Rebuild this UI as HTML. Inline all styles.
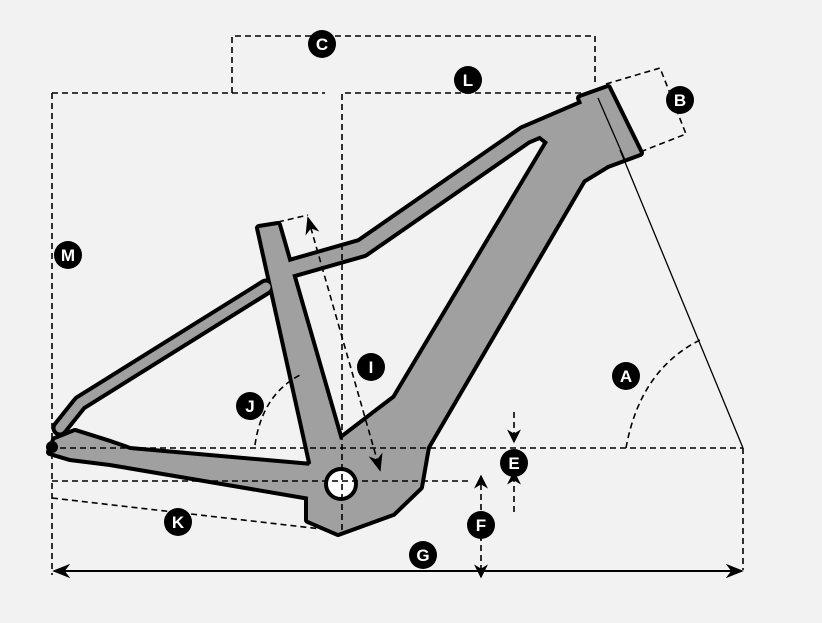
<!DOCTYPE html>
<html><head><style>body{margin:0;background:#f2f2f2}svg{display:block}</style></head><body>
<svg width="822" height="623" viewBox="0 0 822 623" xmlns="http://www.w3.org/2000/svg">
<rect width="822" height="623" fill="#f2f2f2"/>
<defs>
<marker id="ah" viewBox="0 0 10 10" refX="9" refY="5" markerWidth="14" markerHeight="14" markerUnits="userSpaceOnUse" orient="auto-start-reverse"><path d="M0,0 L10,5 L0,10 L3,5 z" fill="#000"/></marker>
<marker id="ah2" viewBox="0 0 10 10" refX="9" refY="5" markerWidth="18" markerHeight="18" markerUnits="userSpaceOnUse" orient="auto-start-reverse"><path d="M0,1 L10,5 L0,9 L3,5 z" fill="#000"/></marker>
</defs>
<!-- frame black pass -->
<g stroke="#000" stroke-linejoin="round" stroke-linecap="round">
<polyline points="595,105 525,135 362,248 292,268" fill="none" stroke-width="21"/>
<polyline points="266,287 80,403 60,428" fill="none" stroke-width="17"/>
<g fill="#000" stroke-width="8">
<polygon points="259,228 278,225 340,440 318,480 312,467"/>
<polygon points="600,100 606,166 583,180 427,447 420,487 393,513 338,533 308,520 308,490 340,440 395,398 548,142 535,132"/>
<polygon points="580,98 608,88 640,153 605,166"/>
<polygon points="312,466 130,450 110,443 75,432 55,440 50,452 70,458 110,463 310,497"/>
</g>
</g>
<!-- frame gray pass -->
<g stroke="#a0a0a0" stroke-linejoin="round" stroke-linecap="round">
<polyline points="595,105 525,135 362,248 292,268" fill="none" stroke-width="13"/>
<polyline points="266,287 80,403 60,428" fill="none" stroke-width="9"/>
<g fill="#a0a0a0" stroke-width="0">
<polygon points="259,228 278,225 340,440 318,480 312,467"/>
<polygon points="600,100 606,166 583,180 427,447 420,487 393,513 338,533 308,520 308,490 340,440 395,398 548,142 535,132"/>
<polygon points="580,98 608,88 640,153 605,166"/>
<polygon points="312,466 130,450 110,443 75,432 55,440 50,452 70,458 110,463 310,497"/>
<polygon points="309,465 340,440 340,515 310,496"/>
</g>
</g>
<line x1="598" y1="98" x2="625" y2="160" stroke="#000" stroke-width="1.3"/>
<circle cx="52" cy="447" r="6" fill="#000"/>
<circle cx="341" cy="484" r="15" fill="#fff" stroke="#000" stroke-width="4"/>
<g fill="none" stroke="#000" stroke-width="1.6" stroke-dasharray="6 4">
<path d="M232,93 V36 H595 V82"/>
<path d="M52,93 H325"/>
<path d="M52,93 V575"/>
<path d="M342,530 V93 H594"/>
<path d="M606,84 L660,68 L686,134 L640,152"/>
<path d="M60,448 H743"/>
<path d="M743,448 V570"/>
<path d="M52,481 H470"/>
<path d="M52,498 L330,530"/>
<path d="M626,448 Q640,370 700,340"/>
<path d="M255,445 Q262,395 300,375"/>
<path d="M278,222 L308,215"/>
<path d="M308,218 L380,470" marker-start="url(#ah2)" marker-end="url(#ah2)"/>
<path d="M514,412 V442" marker-end="url(#ah)"/>
<path d="M514,512 V472" marker-end="url(#ah)"/>
<path d="M481,540 V476" marker-end="url(#ah)"/>
<path d="M481,535 V577" marker-end="url(#ah)"/>
</g>
<path d="M620,150 L743,448" stroke="#000" stroke-width="1.3" fill="none"/>
<path d="M54,571 H742" stroke="#000" stroke-width="2" fill="none" marker-start="url(#ah2)" marker-end="url(#ah2)"/>
<g font-family="Liberation Sans, sans-serif" font-weight="bold" font-size="17" fill="#fff" text-anchor="middle">
<g><circle cx="322" cy="44" r="14" fill="#000"/><text x="322" y="50">C</text></g>
<g><circle cx="468" cy="80" r="14" fill="#000"/><text x="468" y="86">L</text></g>
<g><circle cx="680" cy="100" r="14" fill="#000"/><text x="680" y="106">B</text></g>
<g><circle cx="68" cy="255" r="14" fill="#000"/><text x="68" y="261">M</text></g>
<g><circle cx="371" cy="367" r="14" fill="#000"/><text x="371" y="373">I</text></g>
<g><circle cx="626" cy="376" r="14" fill="#000"/><text x="626" y="382">A</text></g>
<g><circle cx="250" cy="406" r="14" fill="#000"/><text x="250" y="412">J</text></g>
<g><circle cx="514" cy="463" r="14" fill="#000"/><text x="514" y="469">E</text></g>
<g><circle cx="481" cy="525" r="14" fill="#000"/><text x="481" y="531">F</text></g>
<g><circle cx="178" cy="522" r="14" fill="#000"/><text x="178" y="528">K</text></g>
<g><circle cx="423" cy="555" r="14" fill="#000"/><text x="423" y="561">G</text></g>
</g>
</svg>
</body></html>
